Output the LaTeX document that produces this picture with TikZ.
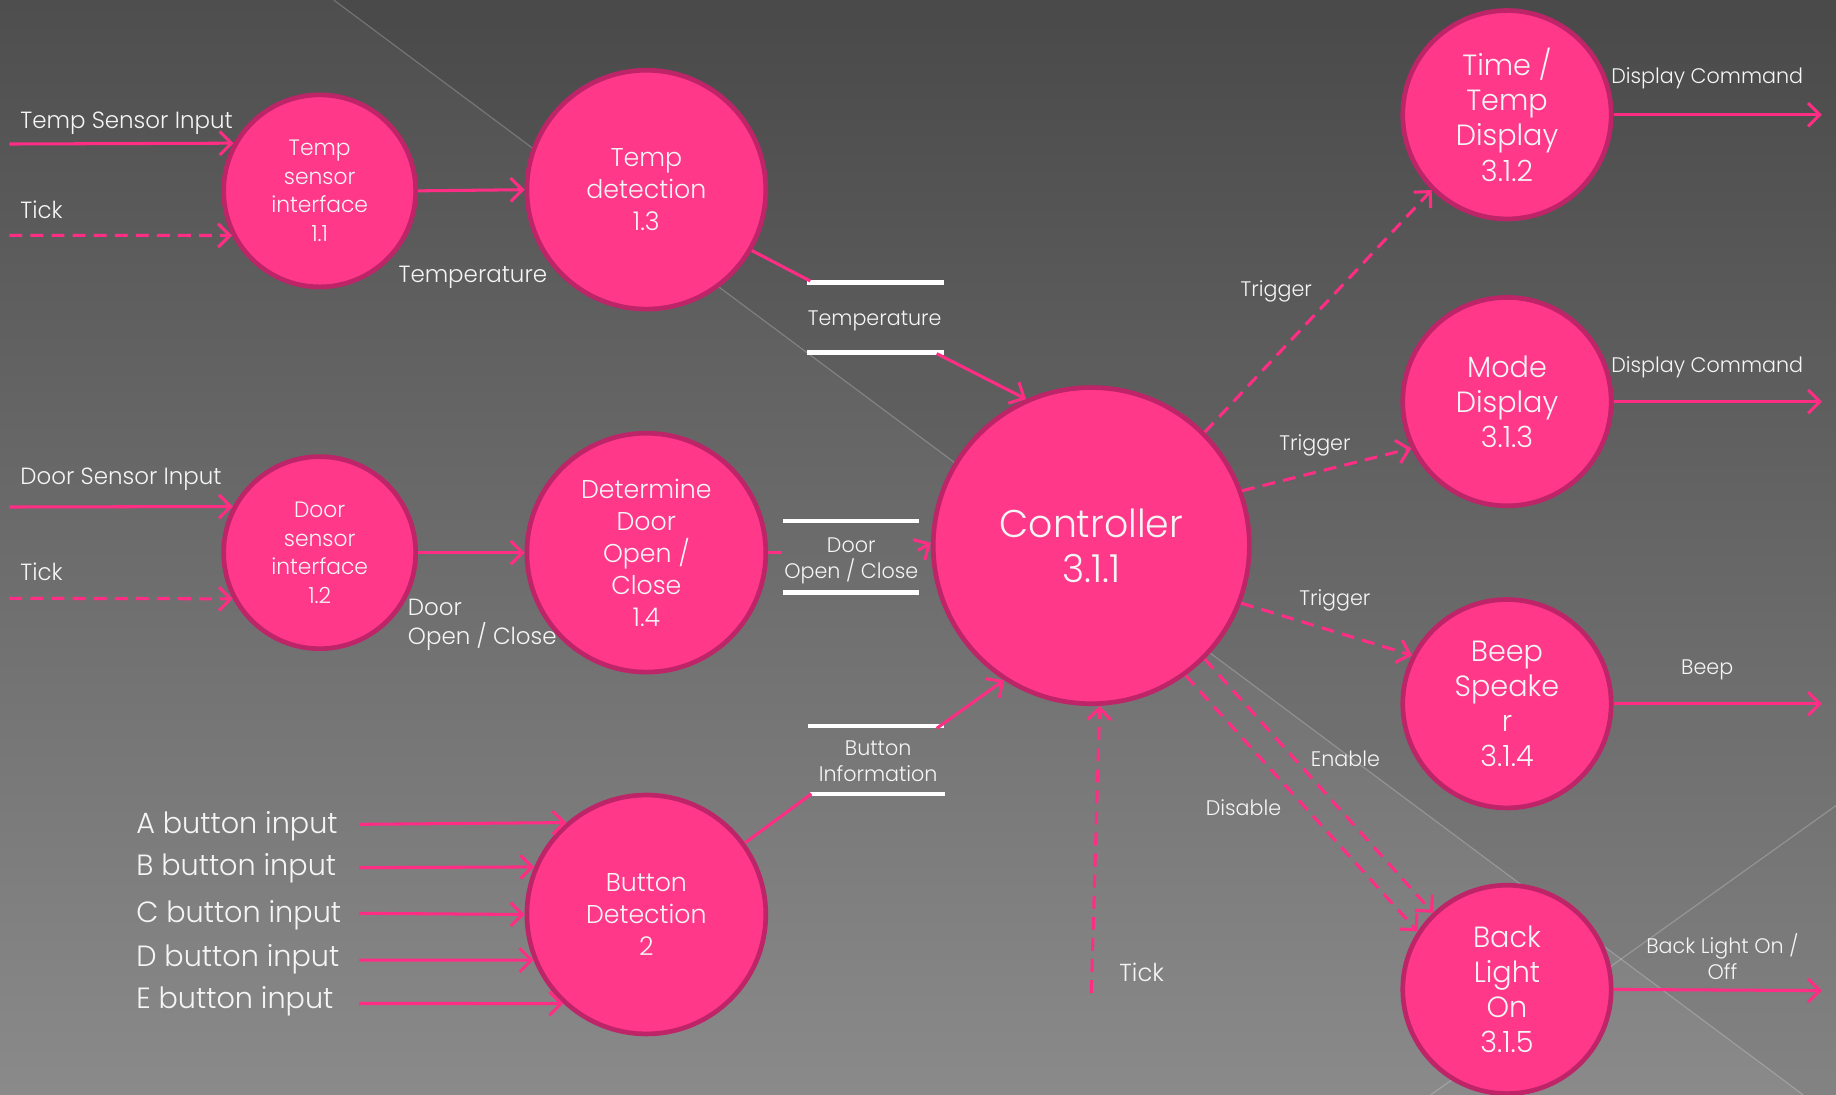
\documentclass[tikz,border=0pt]{standalone}
\usepackage{fontspec}
\setmainfont{Poppins}[UprightFont={* Light}, FakeStretch=0.98]
\usetikzlibrary{arrows.meta}
\definecolor{bgtop}{RGB}{78,78,78}
\definecolor{bgbot}{RGB}{138,138,138}
\definecolor{pk}{RGB}{255,56,138}
\definecolor{pkd}{RGB}{190,36,104}
\definecolor{ln}{RGB}{255,45,132}
\definecolor{tx}{RGB}{245,245,245}
\tikzset{
  proc/.style={circle, fill=pk, draw=pkd, line width=2pt, text=tx, align=center, inner sep=0pt},
  pa/.style={proc, minimum size=82pt, font=\fontsize{9.5}{12.25}\selectfont},
  pb/.style={proc, minimum size=102pt, font=\fontsize{11}{13.7}\selectfont},
  pc/.style={proc, minimum size=135pt, font=\fontsize{16.5}{19.5}\selectfont},
  pd/.style={proc, minimum size=89pt, font=\fontsize{12.5}{15}\selectfont},
  arr/.style={draw=ln, line width=1.3pt, -{Straight Barb[length=5pt,width=10pt,line width=1.3pt]}},
  dsh/.style={arr, dash pattern=on 5.5pt off 3.5pt},
  plain/.style={draw=ln, line width=1.3pt},
  storebar/.style={draw=white, line width=2pt},
  lbl/.style={text=tx, inner sep=0pt, align=center, yshift=-1pt, font=\fontsize{9}{11}\selectfont},
  lblm/.style={text=tx, inner sep=0pt, align=left, yshift=-1.25pt, font=\fontsize{10}{12.5}\selectfont},
  lblb/.style={text=tx, inner sep=0pt, align=left, yshift=-1.25pt, font=\fontsize{12.5}{15}\selectfont},
}
\begin{document}
\begin{tikzpicture}[x=0.5pt,y=-0.5pt]
% background
\useasboundingbox (0,0) rectangle (1568,935);
\shade[top color=bgtop, bottom color=bgbot] (0,0) rectangle (1568,935);
\fill[black, opacity=0.05] (285,0) -- (1568,0) -- (1568,935) -- (1540,935) -- cycle;
\draw[white, opacity=0.22, line width=0.5pt] (285,0) -- (1540,935);
\draw[white, opacity=0.22, line width=0.5pt] (1568,688) -- (1222,935);

% processes
\node[pa] (c11) at (273,163) {Temp\\sensor\\interface\\1.1};
\node[pb] (c13) at (552,162) {Temp\\detection\\1.3};
\node[pa] (c12) at (273,472) {Door\\sensor\\interface\\1.2};
\node[pb] (c14) at (552,472) {Determine\\Door\\Open /\\Close\\1.4};
\node[pb] (c2)  at (552,781) {Button\\Detection\\2};
\node[pc] (ctl) at (932,466) {Controller\\3.1.1};
\node[pd] (c312) at (1287,98) {Time /\\Temp\\Display\\3.1.2};
\node[pd] (c313) at (1287,343) {Mode\\Display\\3.1.3};
\node[pd] (c314) at (1287,601) {Beep\\Speake\\r\\3.1.4};
\node[pd] (c315) at (1287,845) {Back\\Light\\On\\3.1.5};

% data stores
\coordinate (stTa) at (689,241); \coordinate (stTb) at (806,241);
\coordinate (stTc) at (689,301); \coordinate (stTd) at (806,301);
\draw[storebar] (stTa) -- (stTb);
\draw[storebar] (stTc) -- (stTd);
\node[lbl] (stT) at (747,272) {Temperature};

\coordinate (stDa) at (669,445); \coordinate (stDb) at (785,445);
\coordinate (stDc) at (669,506); \coordinate (stDd) at (785,506);
\draw[storebar] (stDa) -- (stDb);
\draw[storebar] (stDc) -- (stDd);
\node[lbl] (stD) at (727,477) {Door\\Open / Close};

\coordinate (stBa) at (690,620); \coordinate (stBb) at (806,620);
\coordinate (stBc) at (692,678); \coordinate (stBd) at (807,678);
\draw[storebar] (stBa) -- (stBb);
\draw[storebar] (stBc) -- (stBd);
\node[lbl] (stB) at (750,648) {Button\\Information};

% external inputs
\coordinate (tsi) at (8,123);
\coordinate (tk1) at (8,201);
\coordinate (dsi) at (8,433);
\coordinate (tk2) at (8,511);
\draw[arr] (tsi) -- (c11.151);
\draw[dsh] (tk1) -- (c11.207);
\draw[arr] (dsi) -- (c12.152);
\draw[dsh] (tk2) -- (c12.208);
\node[lblm, anchor=west] (ltsi) at (17,103) {Temp Sensor Input};
\node[lblm, anchor=west] (ltk1) at (17,177) {Tick};
\node[lblm, anchor=west] (ldsi) at (17,407) {Door Sensor Input};
\node[lblm, anchor=west] (ltk2) at (17,486) {Tick};

% internal flows
\draw[arr] (c11.east) -- (c13.west);
\node[lblm, anchor=west] (ltemp) at (340,234) {Temperature};
\draw[arr] (c12.east) -- (c14.west);
\node[lblm, anchor=west] (ldoor) at (348,531) {Door\\Open / Close};

\coordinate (tT) at (692,240);
\draw[plain] (c13.-30) -- (tT);
\coordinate (fT) at (800,302);
\draw[arr] (fT) -- (ctl.114);

\coordinate (tD) at (668,472);
\draw[plain] (c14.east) -- (tD);
\coordinate (fD) at (784,470);
\draw[arr] (fD) -- (ctl.179);

\coordinate (tB) at (693,678);
\draw[plain] (c2.36.5) -- (tB);
\coordinate (fB) at (800,622);
\draw[arr] (fB) -- (ctl.237);

% buttons
\coordinate (ba) at (307,704);
\coordinate (bb) at (307,741);
\coordinate (bc) at (307,780);
\coordinate (bd) at (307,820);
\coordinate (be) at (307,857);
\draw[arr] (ba) -- (c2.131.6);
\draw[arr] (bb) -- (c2.157.1);
\draw[arr] (bc) -- (c2.180.5);
\draw[arr] (bd) -- (c2.202.2);
\draw[arr] (be) -- (c2.227.5);
\node[lblb, anchor=west] (lba) at (116,703) {A button input};
\node[lblb, anchor=west] (lbb) at (116,739) {B button input};
\node[lblb, anchor=west] (lbc) at (116,779) {C button input};
\node[lblb, anchor=west] (lbd) at (116,817) {D button input};
\node[lblb, anchor=west] (lbe) at (116,853) {E button input};

% tick to controller
\coordinate (tk3) at (932,848);
\draw[dsh] (tk3) -- (ctl.-87);
\node[lblm, font=\fontsize{10.5}{12.5}\selectfont] (ltk3) at (975,828) {Tick};

% controller outputs
\draw[dsh] (ctl.45) -- (c312.225);
\draw[dsh] (ctl.20.6) -- (c313.206);
\draw[dsh] (ctl.-21) -- (c314.153);
\draw[dsh] (ctl.-45) -- (c315.134);
\draw[dsh] (ctl.-54) -- (c315.147);
\node[lbl] (lt1) at (1090,247) {Trigger};
\node[lbl] (lt2) at (1123,378) {Trigger};
\node[lbl] (lt3) at (1140,511) {Trigger};
\node[lbl] (len) at (1149,646) {Enable};
\node[lbl] (ldis) at (1062,688) {Disable};

% external outputs
\coordinate (o1) at (1556,98);
\coordinate (o2) at (1556,343);
\coordinate (o3) at (1556,601);
\coordinate (o4) at (1556,846);
\draw[arr] (c312.east) -- (o1);
\draw[arr] (c313.east) -- (o2);
\draw[arr] (c314.east) -- (o3);
\draw[arr] (c315.east) -- (o4);
\node[lbl] (lo1) at (1458,65) {Display Command};
\node[lbl] (lo2) at (1458,312) {Display Command};
\node[lbl] (lo3) at (1458,570) {Beep};
\node[lbl] (lo4) at (1471,815) {Back Light On /\\Off};
\end{tikzpicture}
\end{document}
